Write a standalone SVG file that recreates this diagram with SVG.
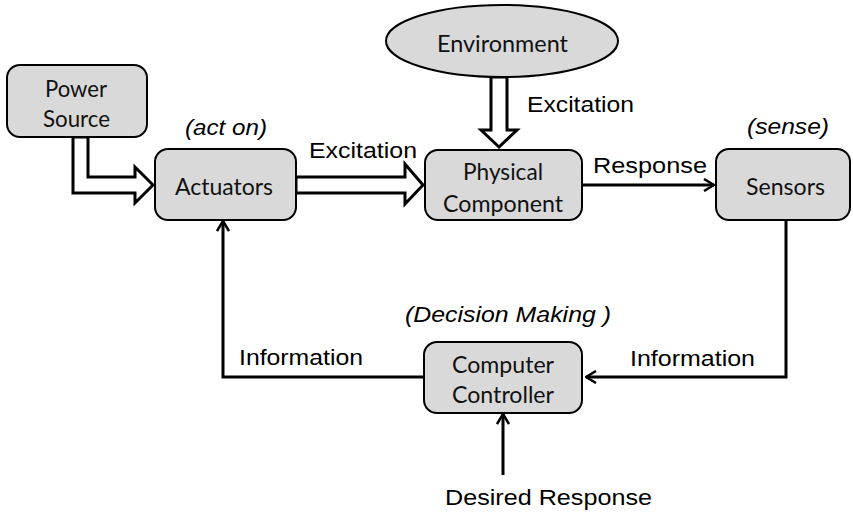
<svg xmlns="http://www.w3.org/2000/svg" width="853" height="512" viewBox="0 0 853 512">
<defs>
<style>
.box{fill:#d9d9d9;stroke:#000;stroke-width:2}
.bt{font-family:Lato,"Open Sans",sans-serif;font-size:23px;fill:#111}
.lb{font-family:"Liberation Sans",Arial,sans-serif;font-size:22.5px;fill:#000}
.it{font-style:italic}
.ln{fill:none;stroke:#000;stroke-width:3}
.fat{fill:#fff;stroke:#000;stroke-width:3;stroke-linejoin:miter}
</style>
<marker id="ah" viewBox="0 0 12 14" refX="11" refY="7" markerWidth="12" markerHeight="14" markerUnits="userSpaceOnUse" orient="auto">
<path d="M1,1 L11,7 L1,13" fill="none" stroke="#000" stroke-width="2.5"/>
</marker>
</defs>
<rect width="853" height="512" fill="#fff"/>

<g id="connectors">
<polygon class="fat" points="73,137 88,137 88,177 135,177 135,167 153,185 135,203 135,193 73,193"/>
<polygon class="fat" points="296,177 405,177 405,164 423,185 405,204 405,193 296,193"/>
<polygon class="fat" points="491,77 507,77 507,130 517,130 499,147 481,130 491,130"/>
<line class="ln" x1="582" y1="185" x2="714" y2="185" marker-end="url(#ah)"/>
<polyline class="ln" points="786,220 786,377 586,377" marker-end="url(#ah)"/>
<polyline class="ln" points="424,377 223,377 223,221" marker-end="url(#ah)"/>
<line class="ln" x1="503" y1="475" x2="503" y2="414" marker-end="url(#ah)"/>
</g>

<g id="power">
<rect class="box" x="7" y="65" width="140" height="72" rx="13"/>
<text class="bt" x="45" y="97" textLength="62" lengthAdjust="spacingAndGlyphs">Power</text>
<text class="bt" x="43" y="127" textLength="67" lengthAdjust="spacingAndGlyphs">Source</text>
</g>
<g id="actuators">
<rect class="box" x="155" y="149" width="141" height="71" rx="13"/>
<text class="bt" x="175" y="195" textLength="98" lengthAdjust="spacingAndGlyphs">Actuators</text>
</g>
<g id="environment">
<ellipse cx="502" cy="41" rx="116" ry="36" fill="#d9d9d9" stroke="#000" stroke-width="2"/>
<text class="bt" x="437" y="52" textLength="131" lengthAdjust="spacingAndGlyphs">Environment</text>
</g>
<g id="physical">
<rect class="box" x="425" y="150" width="157" height="70" rx="13"/>
<text class="bt" x="463" y="180" textLength="80" lengthAdjust="spacingAndGlyphs">Physical</text>
<text class="bt" x="443" y="212" textLength="120" lengthAdjust="spacingAndGlyphs">Component</text>
</g>
<g id="sensors">
<rect class="box" x="716" y="149" width="134" height="71" rx="13"/>
<text class="bt" x="746" y="195" textLength="79" lengthAdjust="spacingAndGlyphs">Sensors</text>
</g>
<g id="controller">
<rect class="box" x="424" y="342" width="158" height="71" rx="13"/>
<text class="bt" x="452" y="373" textLength="102" lengthAdjust="spacingAndGlyphs">Computer</text>
<text class="bt" x="452" y="403" textLength="102" lengthAdjust="spacingAndGlyphs">Controller</text>
</g>

<g id="labels">
<text class="lb it" x="185" y="135" textLength="82" lengthAdjust="spacingAndGlyphs">(act on)</text>
<text class="lb" x="309" y="158" textLength="108" lengthAdjust="spacingAndGlyphs">Excitation</text>
<text class="lb" x="527" y="112" textLength="107" lengthAdjust="spacingAndGlyphs">Excitation</text>
<text class="lb" x="593" y="173" textLength="114" lengthAdjust="spacingAndGlyphs">Response</text>
<text class="lb it" x="747" y="134" textLength="82" lengthAdjust="spacingAndGlyphs">(sense)</text>
<text class="lb it" x="405" y="322" textLength="206" lengthAdjust="spacingAndGlyphs">(Decision Making )</text>
<text class="lb" x="239" y="365" textLength="124" lengthAdjust="spacingAndGlyphs">Information</text>
<text class="lb" x="630" y="366" textLength="125" lengthAdjust="spacingAndGlyphs">Information</text>
<text class="lb" x="445" y="505" textLength="207" lengthAdjust="spacingAndGlyphs">Desired Response</text>
</g>
</svg>
